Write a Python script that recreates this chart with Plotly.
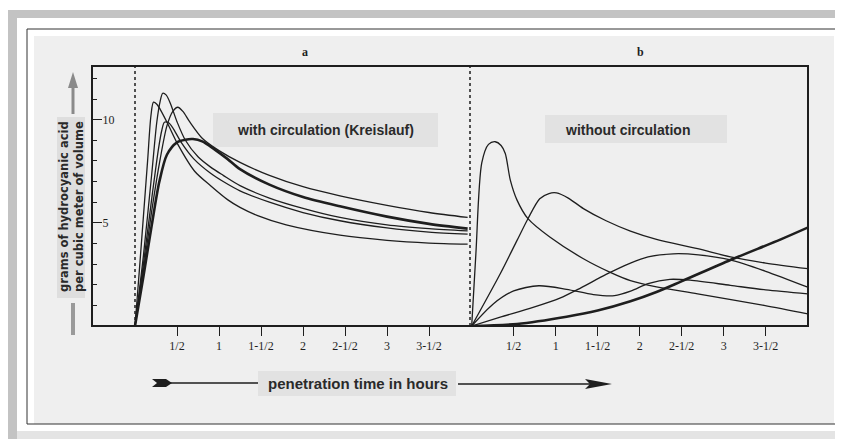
import plotly.graph_objects as go

# ---------------- data ----------------
y_tick_vals = [5, 10]
y_tick_text = ["5", "10"]
x_tick_vals = [0.5, 1, 1.5, 2, 2.5, 3, 3.5]
x_tick_text = ["1/2", "1", "1-1/2", "2", "2-1/2", "3", "3-1/2"]

# panel a : with circulation (Kreislauf)
a1_t = [0, 0.05, 0.1, 0.15, 0.19, 0.22, 0.26, 0.3, 0.39, 0.51, 0.71, 0.9, 1.11, 1.25, 1.46, 1.8, 2.44, 3.0, 3.5, 3.96]
a1_v = [0, 2.6, 5.3, 8.0, 10.2, 10.85, 10.75, 10.5, 9.8, 8.8, 7.5, 6.8, 6.1, 5.75, 5.35, 4.9, 4.4, 4.15, 4.02, 3.97]
a2_t = [0, 0.1, 0.2, 0.26, 0.3, 0.33, 0.37, 0.42, 0.5, 0.6, 0.75, 0.9, 1.05, 1.25, 1.6, 2.0, 2.44, 3.0, 3.5, 3.96]
a2_v = [0, 3.4, 7.4, 9.9, 10.9, 11.28, 11.2, 10.8, 9.9, 9.0, 8.2, 7.7, 7.3, 6.8, 6.2, 5.7, 5.26, 4.9, 4.72, 4.61]
a3_t = [0, 0.1, 0.2, 0.28, 0.32, 0.35, 0.4, 0.45, 0.55, 0.7, 0.9, 1.05, 1.25, 1.6, 2.0, 2.44, 3.0, 3.5, 3.96]
a3_v = [0, 3.0, 6.2, 8.6, 9.5, 9.87, 9.85, 9.6, 8.9, 8.1, 7.4, 7.0, 6.55, 6.0, 5.5, 5.1, 4.75, 4.55, 4.45]
a4_t = [0, 0.1, 0.2, 0.3, 0.38, 0.45, 0.51, 0.57, 0.65, 0.8, 1.0, 1.25, 1.6, 2.0, 2.44, 3.0, 3.5, 3.96]
a4_v = [0, 2.7, 5.6, 8.1, 9.7, 10.4, 10.6, 10.4, 9.9, 9.1, 8.5, 7.93, 7.3, 6.75, 6.31, 5.85, 5.5, 5.26]
a5_t = [0, 0.1, 0.2, 0.29, 0.38, 0.5, 0.6, 0.69, 0.8, 0.95, 1.1, 1.25, 1.6, 2.0, 2.44, 3.0, 3.5, 3.96]
a5_v = [0, 2.4, 4.9, 7.0, 8.3, 8.9, 9.03, 9.06, 8.95, 8.55, 8.1, 7.6, 6.85, 6.25, 5.8, 5.3, 4.95, 4.72]

# panel b : without circulation
b1_t = [0, 0.05, 0.12, 0.2, 0.28, 0.35, 0.4, 0.46, 0.54, 0.67, 0.93, 1.33, 1.65, 1.89, 2.2, 2.69, 3.48, 4.0]
b1_v = [0, 3.5, 7.9, 8.8, 8.93, 8.75, 8.36, 7.07, 6.1, 5.2, 4.31, 3.26, 2.6, 2.2, 1.9, 1.56, 1.0, 0.59]
b2_t = [0, 0.34, 0.54, 0.67, 0.81, 0.92, 1.01, 1.15, 1.33, 1.6, 1.89, 2.2, 2.69, 3.08, 3.5, 4.0]
b2_v = [0, 2.53, 4.15, 5.2, 6.17, 6.42, 6.45, 6.2, 5.69, 5.1, 4.6, 4.2, 3.75, 3.35, 3.05, 2.78]
b3_t = [0, 0.34, 0.73, 1.05, 1.3, 1.6, 1.89, 2.1, 2.4, 2.7, 3.08, 3.5, 4.0]
b3_v = [0, 0.43, 0.9, 1.35, 1.85, 2.5, 3.05, 3.35, 3.5, 3.45, 3.2, 2.65, 1.88]
b4_t = [0, 0.26, 0.5, 0.8, 1.13, 1.45, 1.7, 1.9, 2.1, 2.36, 2.6, 3.08, 3.5, 4.0]
b4_v = [0, 1.08, 1.7, 1.95, 1.78, 1.52, 1.47, 1.7, 2.05, 2.26, 2.22, 1.97, 1.75, 1.56]
b5_t = [0, 0.54, 1.13, 1.5, 1.89, 2.2, 2.49, 3.08, 3.68, 4.0]
b5_v = [0, 0.1, 0.45, 0.75, 1.2, 1.65, 2.15, 3.2, 4.2, 4.77]

# ---------------- geometry helpers (page pixel coords; body has 8px margin) ----------------
OFF = 8
W, H = 843 - OFF, 439 - OFF
PL, PT, PR, PB = 92, 66, 808, 326          # plot area on the page
L, T = PL - OFF, PT - OFF
R, B = W - (PR - OFF), H - (PB - OFF)
PW, PH = PR - PL, PB - PT


def px(x):
    return (x - PL) / PW


def py(y):
    return (PB - y) / PH


SPLIT = px(470)
INK = "#1e1e1e"
SERIF = "Liberation Serif"
SANS = "Liberation Sans"

fig = go.Figure()

a_curves = [(a1_t, a1_v, 1.3), (a2_t, a2_v, 1.3), (a3_t, a3_v, 1.3), (a4_t, a4_v, 1.3), (a5_t, a5_v, 2.6)]
for t, v, w in a_curves:
    fig.add_trace(go.Scatter(x=t, y=v, mode="lines", xaxis="x", yaxis="y",
                             line=dict(color=INK, width=w, shape="spline", smoothing=0.8),
                             hoverinfo="skip", showlegend=False))

b_curves = [(b1_t, b1_v, 1.3), (b2_t, b2_v, 1.3), (b3_t, b3_v, 1.3), (b4_t, b4_v, 1.3), (b5_t, b5_v, 2.6)]
for t, v, w in b_curves:
    fig.add_trace(go.Scatter(x=t, y=v, mode="lines", xaxis="x2", yaxis="y",
                             line=dict(color=INK, width=w, shape="spline", smoothing=0.8),
                             hoverinfo="skip", showlegend=False))

xa_common = dict(tickvals=x_tick_vals, ticktext=x_tick_text, ticks="outside", ticklen=9,
                 tickwidth=1.2, tickcolor=INK, showgrid=False, zeroline=False, showline=False,
                 tickfont=dict(family=SERIF, size=12, color=INK), fixedrange=True)

fig.update_layout(
    width=W, height=H,
    margin=dict(l=L, r=R, t=T, b=B, pad=0),
    paper_bgcolor="white", plot_bgcolor="rgba(0,0,0,0)",
    xaxis=dict(domain=[0, SPLIT], range=[-(135 - PL) / 84, (470 - 135) / 84], anchor="y", **xa_common),
    xaxis2=dict(domain=[SPLIT, 1], range=[-0.02, (PR - 470) / 84 - 0.02], anchor="y", **xa_common),
    yaxis=dict(range=[0, 12.6], tickvals=y_tick_vals, ticktext=y_tick_text, ticks="inside",
               ticklen=10, tickwidth=1.2, tickcolor=INK, ticklabelposition="inside",
               showgrid=False, zeroline=False, showline=False, fixedrange=True,
               tickfont=dict(family=SERIF, size=12, color=INK),
               minor=dict(dtick=1, ticks="inside", ticklen=5, tickwidth=1, tickcolor=INK)),
    showlegend=False,
)


def rect(x0, y0, x1, y1, fill, line_w=0, line_c=None, layer="below"):
    return dict(type="rect", xref="paper", yref="paper", x0=px(x0), x1=px(x1), y0=py(y1), y1=py(y0),
                fillcolor=fill, line=dict(width=line_w, color=line_c or fill), layer=layer)


def hline(x0, x1, y, w, c):
    return dict(type="line", xref="paper", yref="paper", x0=px(x0), x1=px(x1), y0=py(y), y1=py(y),
                line=dict(width=w, color=c))


def vline(x, y0, y1, w, c, dash="solid"):
    return dict(type="line", xref="paper", yref="paper", x0=px(x), x1=px(x), y0=py(y0), y1=py(y1),
                line=dict(width=w, color=c, dash=dash))


def poly(points, fill):
    d = "M " + " L ".join(f"{px(a)} {py(b)}" for a, b in points) + " Z"
    return dict(type="path", xref="paper", yref="paper", path=d, fillcolor=fill, line=dict(width=0))


shapes = [
    # outer page decoration
    rect(8, 10, 843, 18, "#c3c3c3"),
    rect(8, 10, 17, 439, "#c3c3c3"),
    rect(17, 431, 843, 439, "#e4e4e4"),
    # scan background
    rect(34, 36, 834, 424, "#efefef"),
    # thin black frame
    rect(27, 29, 836, 424, "rgba(0,0,0,0)", 1, "#333"),
    # label smudges
    rect(213, 113, 438, 147, "#e2e2e2"),
    rect(545, 115, 727, 143, "#e2e2e2"),
    rect(57, 117, 85, 298, "#dedede"),
    rect(258, 371, 456, 396, "#e2e2e2"),
    # plot frame
    dict(type="rect", xref="paper", yref="paper", x0=0, x1=1, y0=0, y1=1,
         line=dict(width=2, color=INK), fillcolor="rgba(0,0,0,0)"),
    # dotted lines
    dict(type="line", xref="x", yref="paper", x0=0, x1=0, y0=0, y1=1,
         line=dict(width=1.5, color=INK, dash="dot")),
    dict(type="line", xref="paper", yref="paper", x0=SPLIT, x1=SPLIT, y0=0, y1=1,
         line=dict(width=1.5, color=INK, dash="dot")),
    # y-axis arrows (grey)
    vline(73, 114, 86, 3, "#8a8a8a"),
    poly([(68, 88), (73, 72), (78, 88)], "#8a8a8a"),
    vline(73, 335, 303, 4, "#9a9a9a"),
    # x-axis title arrows
    hline(160, 258, 383, 1.5, INK),
    poly([(152, 379), (166, 379), (172, 383), (166, 387), (152, 387), (157, 383)], INK),
    hline(458, 600, 384, 1.5, INK),
    poly([(585, 379), (612, 384), (585, 389), (590, 384)], INK),
]
fig.update_layout(shapes=shapes)


def label(text, x, y, size, family, color="#2a2a2a", angle=0):
    return dict(text=text, x=px(x), y=py(y), xref="paper", yref="paper", showarrow=False,
                xanchor="center", yanchor="middle", textangle=angle,
                font=dict(family=family, size=size, color=color))


ann = [
    label("<b>a</b>", 305, 52, 12, SERIF, INK),
    label("<b>b</b>", 640, 52, 12, SERIF, INK),
    label("<b>with circulation (Kreislauf)</b>", 325, 130, 14, SANS),
    label("<b>without circulation</b>", 627, 130, 14, SANS),
    label("<b>grams of hydrocyanic acid<br>per cubic meter of volume</b>", 71, 207, 11.5, "DejaVu Sans", angle=-90),
    label("<b>penetration time in hours</b>", 358, 383, 15, SANS),
]
fig.update_layout(annotations=ann)

fig.write_html("out.html")
